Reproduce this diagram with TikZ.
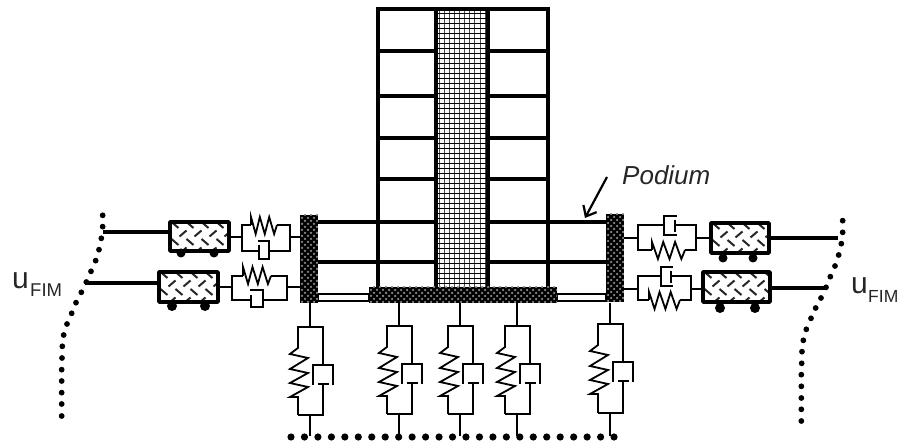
\documentclass[tikz,border=0pt]{standalone}
\usepackage{fontspec}
\setmainfont{Liberation Sans}
\usetikzlibrary{arrows.meta}
\tikzset{
  springline/.style={line width=1.8pt,line join=miter},
  beamline/.style={line width=3.3pt},
  lbl/.style={inner sep=0pt,anchor=base west,text=black!85}
}
% textured block
\newcommand{\texblock}[4]{%
  \fill[black] (#1,#2) rectangle (#3,#4);
  \begin{scope}
    \clip (#1,#2) rectangle (#3,#4);
    \foreach \ii in {0,...,33}{\foreach \jj in {0,...,16}{
      \fill[black!45] ({#1+2+6*\ii},{#2+3+6*\jj}) circle (1.25pt);
      \fill[black!45] ({#1+5+6*\ii},{#2+6*\jj}) circle (1.25pt);
    }}
  \end{scope}}
% cart: x1 y1 x2 y2, wheels x a, x b, y, r
\newcommand{\cartbox}[8]{%
  \fill[white] (#1,#2) rectangle (#3,#4);
  \begin{scope}
    \clip (#1,#2) rectangle (#3,#4);
    \foreach \ii in {0,...,4}{
      \draw[line width=2pt,black!85] ({#1+5+15*\ii-3.5},{#2+0}) -- ({#1+5+15*\ii+3.5},{#2+6});
      \draw[line width=2pt,black!85] ({#1+13+15*\ii-3.5},{#2+14.5}) -- ({#1+13+15*\ii+3.5},{#2+8.5});
      \draw[line width=2pt,black!85] ({#1+5+15*\ii-3.5},{#2+17}) -- ({#1+5+15*\ii+3.5},{#2+23});
      \draw[line width=2pt,black!85] ({#1+13+15*\ii-3.5},{#2+31.5}) -- ({#1+13+15*\ii+3.5},{#2+25.5});
    }
  \end{scope}
  \draw[line width=3.4pt,line join=round] (#1,#2) rectangle (#3,#4);
  \fill (#5,#7) circle (#8pt);
  \fill (#6,#7) circle (#8pt);}
% horizontal spring: x0 x1 yline yfirst ysecond
\newcommand{\hspring}[5]{%
  \draw[springline] (#1,#3) -- (#1,#4)
    -- ({#1+0.18*(#2-#1)},#5) -- ({#1+0.34*(#2-#1)},#4)
    -- ({#1+0.53*(#2-#1)},#5) -- ({#1+0.70*(#2-#1)},#4)
    -- ({#1+0.89*(#2-#1)},#5) -- (#2,#3);}
% vertical unit: x centre, y top, y bottom
\newcommand{\vunit}[3]{%
  \draw[springline] (#1,303) -- (#1,#2);
  \draw[springline] (#1-12,#3) -- (#1-12,{#2+70})
     -- (#1-20,{#2+70}) -- (#1-2,{#2+60}) -- (#1-20,{#2+56}) -- (#1-2,{#2+46})
     -- (#1-20,{#2+42}) -- (#1-2,{#2+31}) -- (#1-20,{#2+27}) -- (#1-12,{#2+21})
     -- (#1-12,#2) -- (#1+13,#2) -- (#1+13,{#2+38});
  \draw[springline] (#1+3,{#2+58}) -- (#1+3,{#2+38}) -- (#1+23,{#2+38}) -- (#1+23,{#2+58});
  \draw[springline] (#1+8,{#2+57}) -- (#1+19,{#2+57});
  \draw[springline] (#1+13,{#2+57}) -- (#1+13,#3) -- (#1-12,#3);
  \draw[springline] (#1,#3) -- (#1,436);}
\begin{document}
\begin{tikzpicture}[x=1pt,y=-1pt]
\useasboundingbox (0,0) rectangle (898,443);
% core hatch
\foreach \xx in {0,...,9}{\draw[line width=0.6pt,black!70] ({439+5.1*\xx},11) -- ({439+5.1*\xx},287);}
\foreach \yy in {0,...,55}{\draw[line width=0.7pt,black] (437,{13+5*\yy}) -- (487,{13+5*\yy});}
% frame
\draw[beamline] (378,9) -- (378,288);
\draw[beamline] (548,9) -- (548,288);
\draw[line width=3.6pt] (436,9) -- (436,288);
\draw[line width=3.6pt] (488,9) -- (488,288);
\draw[beamline] (376.4,9) -- (549.6,9);
\foreach \yy in {51,96,138,179}{
  \draw[beamline] (378,\yy) -- (436,\yy);
  \draw[beamline] (488,\yy) -- (548,\yy);
}
\draw[beamline] (318,222) -- (436,222);
\draw[beamline] (488,222) -- (606,222);
\draw[beamline] (318,262) -- (436,262);
\draw[beamline] (488,262) -- (606,262);
% white strips
\draw[springline] (318,294) rectangle (369,301);
\draw[springline] (557,294) rectangle (606,301);
% walls and slab
\texblock{300}{215}{318}{303}
\texblock{606}{214}{624}{302}
\texblock{369}{287}{557}{303}
% arrow
\node[lbl,font=\fontsize{26}{26}\selectfont\itshape] (podium) at (622,185) {Podium};
\coordinate (arrowtail) at (607,177);
\coordinate (arrowtip) at (585,218);
\draw[line width=2.2pt,-{Straight Barb[length=9pt,width=15pt,line width=2.2pt]}] (arrowtail) -- (arrowtip);
% labels
\node[lbl,font=\fontsize{30}{30}\selectfont] (uL) at (12,289) {u};
\node[lbl,font=\fontsize{18.5}{18.5}\selectfont] (fL) at (30,297) {FIM};
\node[lbl,font=\fontsize{30}{30}\selectfont] (uR) at (851,294) {u};
\node[lbl,font=\fontsize{17.5}{17.5}\selectfont] (fR) at (868,303) {FIM};
% left upper row
\draw[beamline] (103,232) -- (170,232);
\cartbox{170}{222}{229}{251}{181}{214}{253}{4.5}
\draw[springline] (229,237) -- (242,237);
\draw[springline] (290,237) -- (301,237);
\draw[springline] (251,225) -- (242,225) -- (242,251) -- (259,251);
\hspring{251}{277}{225}{217}{234}
\draw[springline] (277,225) -- (290,225) -- (290,251) -- (269,251);
\draw[springline] (259,245) -- (259,258);
\draw[springline] (258,241) -- (269,241) -- (269,259) -- (258,259);
% left lower row
\draw[beamline] (85,283) -- (159,283);
\cartbox{159}{272}{218}{302}{172}{205}{306}{5}
\draw[springline] (218,287) -- (232,287);
\draw[springline] (287,287) -- (301,287);
\draw[springline] (243,276) -- (232,276) -- (232,300) -- (251,300);
\hspring{243}{271}{276}{267}{284}
\draw[springline] (271,276) -- (287,276) -- (287,300) -- (263,300);
\draw[springline] (251,295) -- (251,308);
\draw[springline] (250,290) -- (263,290) -- (263,307) -- (250,307);
% right upper row
\draw[springline] (624,238) -- (638,238);
\draw[springline] (696,238) -- (711,238);
\draw[springline] (664,225) -- (638,225) -- (638,250) -- (652,250);
\draw[springline] (675,225) -- (696,225) -- (696,250) -- (685,250);
\hspring{652}{685}{250}{242}{259}
\draw[springline] (677,216) -- (664,216) -- (664,235) -- (677,235);
\draw[springline] (675,220) -- (675,232);
\cartbox{711}{223}{769}{253}{723}{753}{258}{4.5}
\draw[beamline] (769,238) -- (838,238);
% right lower row
\draw[springline] (624,289) -- (638,289);
\draw[springline] (691,289) -- (703,289);
\draw[springline] (661,276) -- (638,276) -- (638,300) -- (649,300);
\draw[springline] (671,276) -- (691,276) -- (691,300) -- (680,300);
\hspring{649}{680}{300}{292}{309}
\draw[springline] (673,267) -- (661,267) -- (661,286) -- (673,286);
\draw[springline] (671,271) -- (671,283);
\cartbox{703}{272}{770}{302}{720}{755}{308}{5}
\draw[beamline] (770,288) -- (825,288);
% vertical units
\vunit{310}{327}{415}
\vunit{399}{326}{414}
\vunit{460}{326}{414}
\vunit{517}{326}{414}
\vunit{610}{324}{413}
% bottom dots
\foreach \ii in {0,...,24}{\fill ({291+13.46*\ii},437) circle (3.6pt);}
% left curve
\foreach \xx/\yy in {308/16,308/50,304/85,297/119,287/152,273/184,259/216,244/247,228/278,215/310,201/342,191/375,187/409,186/444,185/479,185/513,185/548,185/582,185/618}{
  \fill ({\xx/3},{210+\yy/3}) circle (2.9pt);}
% right curve
\foreach \xx/\yy in {188/32,188/67,184/101,176/135,165/168,151/200,138/232,123/264,107/294,93/325,79/358,70/391,66/425,65/460,64/494,64/529,64/564,64/598,64/633}{
  \fill ({780+\xx/3},{210+\yy/3}) circle (2.9pt);}
\end{tikzpicture}
\end{document}
